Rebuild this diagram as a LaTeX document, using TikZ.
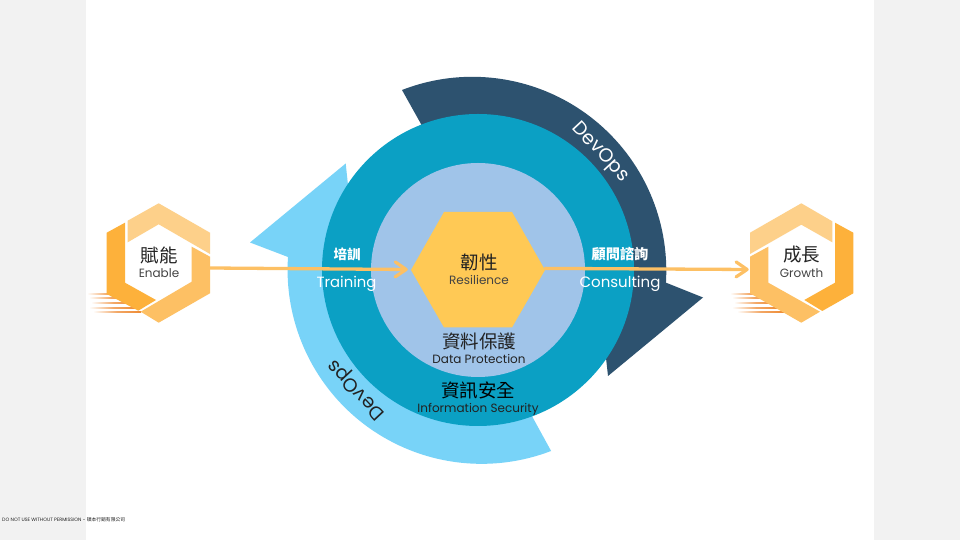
\documentclass[tikz,border=0pt]{standalone}
\usepackage{fontspec}
\setmainfont{Poppins}
\newfontfamily\cjk{Noto Sans CJK TC}
\usetikzlibrary{arrows.meta}
\definecolor{darkarc}{HTML}{2D526F}
\definecolor{lightarc}{HTML}{78D3F8}
\definecolor{midcirc}{HTML}{0BA0C4}
\definecolor{incirc}{HTML}{A0C4E9}
\definecolor{hexcore}{HTML}{FFC955}
\definecolor{hexa}{HTML}{FDD08A}
\definecolor{hexb}{HTML}{FDC064}
\definecolor{hexc}{HTML}{FDB13B}
\definecolor{streak}{HTML}{EE8A33}
\definecolor{side}{HTML}{F2F2F2}
\definecolor{ink}{HTML}{222222}
\tikzset{
  x=1pt,y=1pt,
  zh/.style={font=\fontsize{#1}{#1}\selectfont\cjk,inner sep=0,text=ink},
  en/.style={font=\fontsize{#1}{#1}\selectfont,inner sep=0,text=ink},
  flow/.style={draw=hexb,line width=3.3pt,-{Straight Barb[length=11pt,width=15pt,line width=3.2pt,round]},line cap=round},
  anchorbox/.style={draw=none,fill=none,inner sep=0,minimum width=#1},
  speed/.style={left color=white,right color=streak,middle color=streak!75,draw=none}
}
\begin{document}
\begin{tikzpicture}
\useasboundingbox (0,0) rectangle (960,540);
\fill[white] (0,0) rectangle (960,540);
\fill[side] (0,0) rectangle (86,540);
\fill[side] (874,0) rectangle (960,540);

% arcs
\fill[darkarc] (402,450) arc[start angle=111.25,end angle=-3.5,radius=194]
   -- (703,242.5) -- (608,164) -- (604,200) -- (478,270) -- (421,416) -- cycle;
\fill[lightarc] (288,283) arc[start angle=176.2,end angle=291,radius=194]
   -- (533,122) -- (478,270) -- (348,355) -- (345.7,376.5) -- (250,297.5) -- (288,283) -- cycle;

% circles
\fill[midcirc] (478,270) circle[radius=156];
\fill[incirc] (478,270) circle[radius=107];

% speed lines
\foreach \yy/\xa/\xb in {245.7/87/128,241.7/89/133,236.7/91/136,232.3/89/138,227.7/93/141}{
  \shade[speed] (\xa,\yy-0.5) rectangle (\xb,\yy+0.5);}
\foreach \yy/\xa/\xb in {245.7/730/770,241.7/732/775,236.7/734/778,232.3/732/780,227.7/737/784}{
  \shade[speed] (\xa,\yy-0.5) rectangle (\xb,\yy+0.5);}

% left hexagon
\fill[hexa] (127.7,319.3) -- (158.7,336.7) -- (210,307.3) -- (210,286) -- (158.7,315.7) -- (127.7,297.7) -- cycle;
\fill[hexb] (191.7,293.3) -- (210,283.3) -- (210,246.7) -- (158.7,217.3) -- (140.7,228.3) -- (191.7,258.3) -- cycle;
\fill[hexc] (125,317.3) -- (106.7,307.3) -- (106.7,246) -- (138.3,229.3) -- (156,240) -- (125,257.3) -- cycle;

% right hexagon
\fill[hexa] (750,307.3) -- (801.3,336.7) -- (832.3,318.7) -- (832.3,297.7) -- (801.3,315.3) -- (750,286) -- cycle;
\fill[hexc] (835,317.3) -- (853.3,307.3) -- (853.3,246.7) -- (822.3,229) -- (804.3,240) -- (835,257.3) -- cycle;
\fill[hexb] (750,283.3) -- (768.3,293.3) -- (768.3,257.3) -- (820,228.3) -- (801.3,217.3) -- (750,246.7) -- cycle;

% core hexagon
\fill[hexcore] (411,270) -- (444,328) -- (512,328) -- (545,270) -- (512,212.5) -- (444,212.5) -- cycle;

% anchors
\node[anchorbox=103.4] (enable) at (158.4,270) {};
\node[anchorbox=134] (core) at (478,270) {};
\node[anchorbox=103.4] (growth) at (801.6,270) {};

% flows
\draw[flow] ([yshift=2pt]enable.east) -- ([xshift=-3pt,yshift=0.5pt]core.west);
\draw[flow] ([yshift=1.6pt]core.east) -- ([xshift=-1pt,yshift=0.5pt]growth.west);

% labels
\node[zh=18.5] (t1) at (159,285) {賦能};
\node[en=12,text=ink!85] (t2) at (159,267) {Enable};
\node[zh=18.5] (t3) at (801.5,285) {成長};
\node[en=12,text=ink!85] (t4) at (801.5,267) {Growth};
\node[zh=18.5] (t5) at (479,278) {韌性};
\node[en=12,text=ink!85] (t6) at (479,260) {Resilience};
\node[zh=13,text=white,font=\fontsize{13.5}{13.5}\selectfont\cjk\bfseries] (t7) at (347,286) {培訓};
\node[en=14.8,text=white] (t8) at (346.5,256) {Training};
\node[zh=14,text=white,font=\fontsize{14.2}{14.2}\selectfont\cjk\bfseries] (t9) at (620,286) {顧問諮詢};
\node[en=15,text=white] (t10) at (620,256) {Consulting};
\node[zh=18.5] (t11) at (479,199) {資料保護};
\node[en=12,text=ink] (t12) at (479,181) {Data Protection};
\node[zh=18.5,text=black] (t13) at (478,150) {資訊安全};
\node[en=12,text=ink] (t14) at (478,131) {Information Security};
\node[en=19,text=white,rotate=-47] (t15) at (600,387.5) {DevOps};
\node[en=19,text=ink,rotate=133] (t16) at (357,151) {DevOps};
\node[en=4.8,anchor=west,text=ink] (t17) at (2,20) {DO NOT USE WITHOUT PERMISSION - {\cjk 碩本行銷有限公司}};
\end{tikzpicture}
\end{document}
